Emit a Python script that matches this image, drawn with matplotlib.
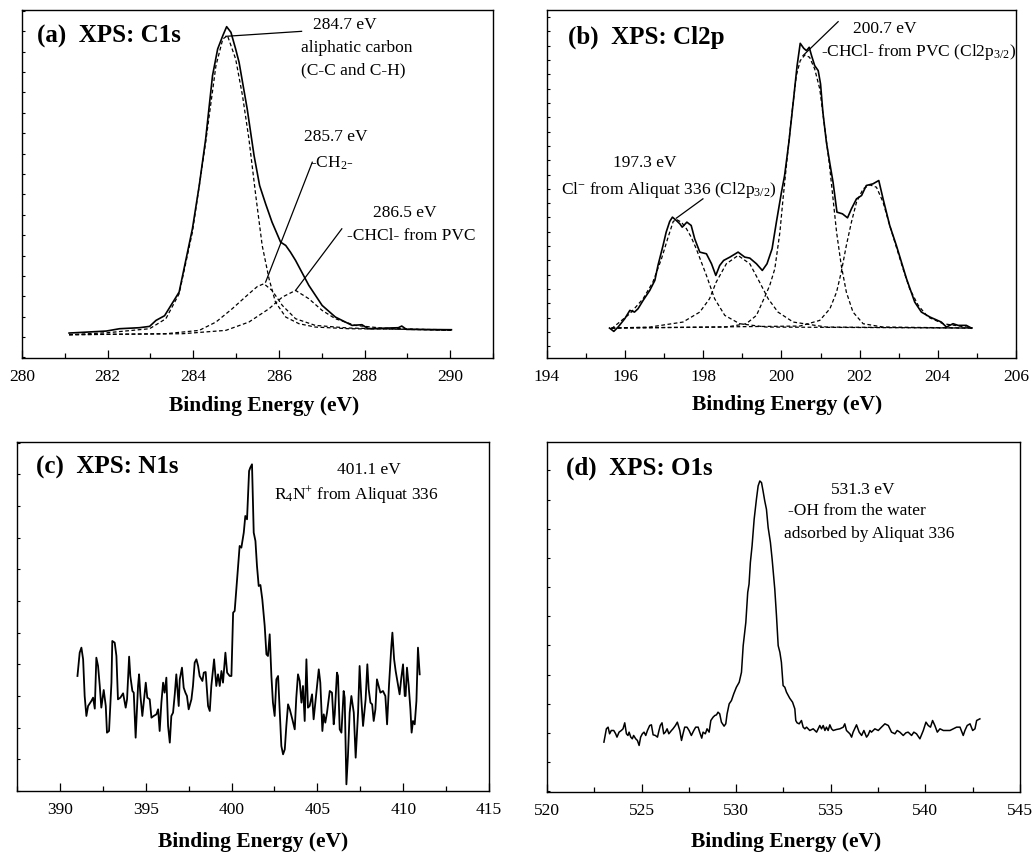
import matplotlib
matplotlib.use("Agg")
import matplotlib.pyplot as plt
from matplotlib.ticker import MultipleLocator

plt.rcParams['font.family'] = ['Liberation Serif', 'DejaVu Serif']
plt.rcParams['mathtext.fontset'] = 'custom'
plt.rcParams['mathtext.rm'] = 'Liberation Serif'
plt.rcParams['mathtext.it'] = 'Liberation Serif:italic'
plt.rcParams['mathtext.bf'] = 'Liberation Serif:bold'

# ---------------- (a) C1s : (binding energy eV, intensity a.u.) ----------------
c1s_raw = [(281.10, 75), (281.97, 81), (282.28, 88), (282.74, 91), (282.98, 95),
           (283.13, 113), (283.33, 127), (283.67, 198), (283.98, 388), (284.14, 518),
           (284.29, 658), (284.45, 848), (284.57, 928), (284.69, 968), (284.78, 995),
           (284.88, 978), (284.99, 928), (285.07, 888), (285.26, 748), (285.42, 608),
           (285.55, 518), (285.69, 463), (285.84, 408), (286.04, 348), (286.16, 338),
           (286.27, 318), (286.39, 293), (286.70, 218), (287.01, 158), (287.32, 123),
           (287.71, 98), (287.94, 100), (288.09, 88), (288.79, 91), (288.87, 96),
           (288.98, 86), (290.03, 85)]
c1s_fit1 = [(281.10, 70), (282.00, 76), (282.98, 88), (283.36, 118), (283.67, 193),
            (283.98, 378), (284.29, 648), (284.53, 878), (284.69, 958), (284.80, 968),
            (284.99, 898), (285.15, 788), (285.30, 658), (285.46, 488), (285.61, 338),
            (285.77, 238), (285.92, 168), (286.16, 123), (286.47, 103), (286.85, 93),
            (287.63, 88), (290.03, 85)]
c1s_fit2 = [(281.10, 70), (283.36, 73), (284.14, 83), (284.53, 108), (284.91, 148),
            (285.30, 193), (285.50, 215), (285.65, 223), (285.84, 203), (286.08, 158),
            (286.39, 118), (286.85, 98), (287.63, 90), (290.03, 83)]
c1s_fit3 = [(281.10, 70), (283.75, 73), (284.76, 83), (285.30, 108), (285.77, 148),
            (286.08, 183), (286.39, 203), (286.70, 178), (287.01, 143), (287.32, 118),
            (287.78, 98), (288.40, 90), (290.03, 83)]

# ---------------- (b) Cl2p ----------------
cl2p_raw = [(195.60, 90), (195.71, 80), (195.82, 93), (195.99, 118), (196.12, 143),
            (196.24, 138), (196.33, 148), (196.46, 173), (196.63, 203), (196.76, 233),
            (196.84, 278), (196.97, 338), (197.05, 378), (197.14, 410), (197.21, 423),
            (197.31, 413), (197.40, 403), (197.46, 393), (197.58, 408), (197.69, 398),
            (197.78, 358), (197.91, 318), (198.08, 313), (198.21, 283), (198.32, 248),
            (198.42, 278), (198.52, 293), (198.68, 303), (198.89, 318), (199.06, 303),
            (199.19, 300), (199.36, 283), (199.51, 263), (199.63, 283), (199.76, 328),
            (199.87, 408), (200.00, 498), (200.08, 548), (200.19, 648), (200.31, 778),
            (200.40, 878), (200.48, 945), (200.57, 930), (200.64, 923), (200.71, 933),
            (200.77, 908), (200.85, 878), (200.94, 863), (201.00, 823), (201.06, 738),
            (201.15, 648), (201.24, 583), (201.32, 528), (201.42, 438), (201.56, 433),
            (201.69, 421), (201.79, 448), (201.92, 478), (202.05, 488), (202.17, 518),
            (202.34, 523), (202.49, 533), (202.60, 478), (202.77, 398), (202.94, 338),
            (203.07, 288), (203.20, 238), (203.41, 168), (203.58, 138), (203.80, 123),
            (204.09, 108), (204.22, 93), (204.39, 103), (204.52, 98), (204.73, 98),
            (204.86, 90)]
cl2p_fit1 = [(195.65, 88), (196.12, 133), (196.46, 178), (196.71, 228), (196.93, 298),
             (197.10, 363), (197.23, 410), (197.31, 416), (197.44, 408), (197.57, 388),
             (197.69, 363), (197.82, 328), (197.95, 288), (198.08, 248), (198.29, 178),
             (198.55, 128), (198.93, 103), (199.61, 93), (204.89, 90)]
cl2p_fit2 = [(195.65, 90), (196.63, 93), (197.48, 108), (197.91, 138), (198.16, 178),
             (198.33, 228), (198.59, 283), (198.89, 308), (199.19, 283), (199.44, 228),
             (199.66, 178), (199.91, 138), (200.30, 108), (201.15, 93), (204.89, 90)]
cl2p_fit3 = [(195.65, 90), (198.59, 93), (199.10, 103), (199.36, 128), (199.57, 183),
             (199.70, 218), (199.83, 268), (199.96, 378), (200.04, 478), (200.17, 628),
             (200.28, 748), (200.38, 848), (200.48, 893), (200.60, 910), (200.72, 903),
             (200.85, 868), (200.98, 808), (201.11, 688), (201.22, 588), (201.32, 478),
             (201.41, 378), (201.53, 278), (201.66, 198), (201.83, 138), (202.09, 103),
             (202.60, 93), (204.89, 90)]
cl2p_fit4 = [(195.65, 90), (200.47, 96), (200.98, 113), (201.24, 148), (201.41, 198),
             (201.53, 258), (201.66, 338), (201.79, 408), (201.92, 468), (202.09, 508),
             (202.26, 520), (202.43, 513), (202.60, 468), (202.77, 398), (202.94, 333),
             (203.11, 268), (203.28, 208), (203.50, 158), (203.75, 123), (204.14, 103),
             (204.73, 93), (204.89, 90)]

# ---------------- (c) N1s ----------------
n1s_raw = [(391.02, 345), (391.15, 415), (391.25, 430), (391.35, 395), (391.44, 285),
           (391.54, 225), (391.64, 255), (391.83, 270), (391.93, 280), (392.03, 247),
           (392.12, 400), (392.22, 375), (392.32, 315), (392.41, 250), (392.55, 303),
           (392.67, 255), (392.74, 175), (392.86, 180), (393.00, 325), (393.05, 450),
           (393.19, 445), (393.29, 405), (393.38, 275), (393.52, 280), (393.68, 293),
           (393.83, 250), (393.91, 275), (394.03, 403), (394.10, 345), (394.22, 300),
           (394.30, 295), (394.41, 160), (394.55, 315), (394.61, 350), (394.69, 285),
           (394.80, 225), (394.90, 275), (395.00, 325), (395.09, 280), (395.23, 275),
           (395.33, 220), (395.46, 225), (395.62, 230), (395.72, 245), (395.81, 180),
           (395.91, 265), (396.01, 325), (396.10, 295), (396.20, 340), (396.30, 195),
           (396.40, 145), (396.49, 225), (396.59, 235), (396.69, 290), (396.78, 350),
           (396.92, 255), (396.98, 335), (397.11, 370), (397.21, 310), (397.31, 295),
           (397.40, 285), (397.50, 245), (397.66, 275), (397.75, 315), (397.85, 385),
           (397.95, 395), (398.05, 375), (398.14, 345), (398.30, 330), (398.38, 355),
           (398.49, 357), (398.63, 255), (398.73, 240), (398.82, 315), (398.98, 395),
           (399.11, 315), (399.21, 350), (399.31, 315), (399.41, 360), (399.50, 325),
           (399.64, 415), (399.74, 355), (399.89, 345), (399.99, 345), (400.09, 535),
           (400.18, 540), (400.32, 635), (400.47, 735), (400.57, 730), (400.71, 775),
           (400.80, 825), (400.90, 815), (401.02, 960), (401.09, 970), (401.19, 980),
           (401.29, 775), (401.39, 750), (401.48, 675), (401.58, 615), (401.68, 618),
           (401.79, 575), (401.93, 495), (402.03, 410), (402.12, 405), (402.22, 470),
           (402.32, 345), (402.41, 265), (402.51, 225), (402.61, 335), (402.71, 345),
           (402.80, 245), (402.90, 135), (403.00, 110), (403.10, 125), (403.19, 195),
           (403.29, 260), (403.39, 245), (403.54, 215), (403.68, 185), (403.77, 280),
           (403.87, 350), (403.97, 330), (404.07, 265), (404.16, 315), (404.26, 210),
           (404.36, 395), (404.45, 250), (404.55, 255), (404.69, 290), (404.78, 215),
           (404.94, 295), (405.08, 365), (405.17, 325), (405.29, 180), (405.37, 230),
           (405.46, 205), (405.56, 235), (405.72, 300), (405.85, 295), (405.95, 200),
           (406.01, 230), (406.14, 355), (406.20, 345), (406.30, 185), (406.40, 175),
           (406.53, 300), (406.59, 280), (406.69, 20), (406.78, 105), (406.88, 235),
           (406.98, 285), (407.12, 235), (407.23, 100), (407.37, 235), (407.46, 375),
           (407.56, 275), (407.66, 195), (407.81, 275), (407.91, 380), (407.99, 305),
           (408.09, 265), (408.19, 260), (408.28, 210), (408.38, 245), (408.47, 335),
           (408.57, 315), (408.67, 295), (408.82, 300), (408.96, 285), (409.06, 200),
           (409.17, 315), (409.31, 435), (409.37, 475), (409.47, 395), (409.56, 360),
           (409.66, 330), (409.79, 290), (409.89, 340), (409.99, 380), (410.09, 285),
           (410.14, 285), (410.22, 370), (410.32, 315), (410.42, 245), (410.49, 175),
           (410.57, 210), (410.67, 200), (410.77, 270), (410.86, 430), (410.96, 350)]

# ---------------- (d) O1s ----------------
o1s_raw = [(523.01, 150), (523.14, 190), (523.23, 195), (523.31, 175), (523.40, 185),
           (523.53, 185), (523.63, 175), (523.70, 165), (523.81, 180), (523.93, 185),
           (524.02, 190), (524.11, 208), (524.20, 175), (524.28, 170), (524.34, 180),
           (524.43, 165), (524.51, 160), (524.58, 170), (524.69, 160), (524.78, 155),
           (524.87, 140), (524.95, 165), (525.04, 175), (525.13, 180), (525.22, 170),
           (525.31, 185), (525.43, 200), (525.52, 202), (525.61, 172), (525.73, 170),
           (525.84, 165), (525.92, 185), (525.99, 200), (526.08, 208), (526.17, 175),
           (526.26, 180), (526.35, 190), (526.44, 175), (526.58, 185), (526.66, 190),
           (526.79, 200), (526.89, 210), (527.02, 185), (527.11, 155), (527.19, 175),
           (527.28, 195), (527.40, 195), (527.51, 185), (527.63, 170), (527.76, 185),
           (527.86, 195), (527.99, 195), (528.07, 180), (528.18, 162), (528.25, 180),
           (528.37, 175), (528.46, 190), (528.57, 180), (528.66, 215), (528.78, 225),
           (528.87, 230), (528.96, 232), (529.04, 240), (529.13, 235), (529.22, 210),
           (529.36, 198), (529.45, 205), (529.52, 235), (529.63, 265), (529.75, 275),
           (529.87, 295), (530.01, 315), (530.16, 330), (530.28, 360), (530.37, 440),
           (530.51, 510), (530.61, 600), (530.68, 625), (530.75, 690), (530.84, 740),
           (530.95, 820), (531.07, 880), (531.16, 920), (531.25, 935), (531.34, 930),
           (531.42, 905), (531.51, 875), (531.60, 850), (531.69, 795), (531.81, 750),
           (531.90, 700), (532.04, 610), (532.13, 530), (532.22, 440), (532.31, 420),
           (532.39, 390), (532.48, 320), (532.57, 315), (532.66, 300), (532.83, 282),
           (532.98, 270), (533.10, 250), (533.15, 215), (533.22, 208), (533.33, 205),
           (533.45, 215), (533.54, 195), (533.63, 190), (533.72, 195), (533.89, 185),
           (534.07, 190), (534.25, 180), (534.42, 200), (534.51, 190), (534.60, 200),
           (534.69, 185), (534.77, 195), (534.86, 185), (534.95, 202), (535.04, 190),
           (535.13, 185), (535.30, 188), (535.48, 190), (535.66, 195), (535.74, 205),
           (535.83, 185), (536.01, 175), (536.10, 165), (536.18, 180), (536.36, 202),
           (536.50, 180), (536.63, 170), (536.75, 185), (536.89, 165), (536.98, 172),
           (537.07, 185), (537.15, 180), (537.33, 190), (537.51, 185), (537.68, 195),
           (537.86, 205), (538.04, 200), (538.21, 180), (538.39, 175), (538.51, 185),
           (538.65, 180), (538.83, 170), (538.97, 178), (539.09, 180), (539.27, 170),
           (539.39, 180), (539.53, 175), (539.71, 160), (539.89, 185), (540.03, 210),
           (540.15, 200), (540.27, 195), (540.38, 215), (540.50, 200), (540.63, 180),
           (540.77, 190), (540.95, 185), (541.12, 185), (541.30, 185), (541.47, 190),
           (541.65, 195), (541.83, 195), (542.00, 170), (542.09, 185), (542.21, 200),
           (542.36, 205), (542.50, 185), (542.62, 190), (542.71, 215), (542.88, 220)]

SOLID = dict(color='black', lw=1.2)
DASH = dict(color='black', lw=0.9, linestyle=(0, (3.0, 2.0)))
ANN = dict(fontsize=12.5, ha='center', va='center')
TITLE = dict(fontsize=18, fontweight='bold', va='center', ha='left')


def xy(pairs):
    return [p[0] for p in pairs], [p[1] for p in pairs]


def style(ax, xlim, ylim, xmin, ybase, yoff, xticks, label_xy):
    ax.set_xlim(*xlim)
    ax.set_ylim(*ylim)
    ax.set_xticks(xticks)
    ax.xaxis.set_minor_locator(MultipleLocator(xmin))
    ax.yaxis.set_major_locator(MultipleLocator(ybase, offset=yoff))
    ax.tick_params(axis='x', which='major', direction='in', length=6, width=0.9,
                   labelsize=12.5, pad=7, top=False)
    ax.tick_params(axis='x', which='minor', direction='in', length=3.5, width=0.9, top=False)
    ax.tick_params(axis='y', which='both', direction='in', length=2.2, width=0.8,
                   labelleft=False, right=False)
    for s in ax.spines.values():
        s.set_linewidth(1.0)
    ax.set_xlabel('Binding Energy (eV)', fontsize=15.5, fontweight='bold')
    ax.xaxis.set_label_coords(*label_xy)


fig = plt.figure(figsize=(10.33, 8.54), dpi=100)

# (a)
ax = fig.add_axes([0.0213, 0.5796, 0.4559, 0.4075])
for d in (c1s_fit1, c1s_fit2, c1s_fit3):
    ax.plot(*xy(d), **DASH)
ax.plot(*xy(c1s_raw), **SOLID)
style(ax, (280, 291), (0, 1045), 1, 61.2, 1.8, [280, 282, 284, 286, 288, 290],
      (0.515, -0.107))
ax.text(0.032, 0.928, '(a)  XPS: C1s', transform=ax.transAxes, **TITLE)
ax.text(287.55, 1003, '284.7 eV', **ANN)
ax.text(287.82, 933, 'aliphatic carbon', **ANN)
ax.text(287.74, 868, '(C-C and C-H)', **ANN)
ax.plot([286.53, 284.76], [981, 966], color='black', lw=0.9)
ax.text(287.33, 668, '285.7 eV', **ANN)
ax.text(287.24, 588, '-CH$_2$-', **ANN)
ax.plot([286.78, 285.69], [588, 228], color='black', lw=0.9)
ax.text(288.95, 438, '286.5 eV', **ANN)
ax.text(289.10, 368, '-CHCl- from PVC', **ANN)
ax.plot([287.47, 286.39], [388, 203], color='black', lw=0.9)

# (b)
ax = fig.add_axes([0.5295, 0.5796, 0.4540, 0.4075])
for d in (cl2p_fit1, cl2p_fit2, cl2p_fit3, cl2p_fit4):
    ax.plot(*xy(d), **DASH)
ax.plot(*xy(cl2p_raw), **SOLID)
style(ax, (194, 206), (0, 1045), 1, 43, -8, [194, 196, 198, 200, 202, 204, 206],
      (0.512, -0.102))
ax.text(0.045, 0.925, '(b)  XPS: Cl2p', transform=ax.transAxes, **TITLE)
ax.text(202.64, 990, '200.7 eV', **ANN)
ax.text(203.52, 923, '-CHCl- from PVC (Cl2p$_{3/2}$)', **ANN)
ax.plot([201.45, 200.55], [1010, 908], color='black', lw=0.9)
ax.text(196.50, 588, '197.3 eV', **ANN)
ax.text(197.11, 508, 'Cl$^{-}$ from Aliquat 336 (Cl2p$_{3/2}$)', **ANN)
ax.plot([197.99, 197.31], [478, 420], color='black', lw=0.9)

# (c)
ax = fig.add_axes([0.0165, 0.0726, 0.4569, 0.4087])
ax.plot(*xy(n1s_raw), color='black', lw=1.3)
style(ax, (387.5, 415), (0, 1047), 2.5, 95, 0, [390, 395, 400, 405, 410, 415],
      (0.5, -0.115))
ax.text(0.040, 0.931, '(c)  XPS: N1s', transform=ax.transAxes, **TITLE)
ax.text(407.98, 967, '401.1 eV', **ANN)
ax.text(407.25, 890, 'R$_4$N$^{+}$ from Aliquat 336', **ANN)

# (d)
ax = fig.add_axes([0.5295, 0.0714, 0.4579, 0.4098])
ax.plot(*xy(o1s_raw), color='black', lw=1.1)
style(ax, (520, 545), (0, 1052), 2.5, 87.7, 2.3, [520, 525, 530, 535, 540, 545],
      (0.505, -0.112))
ax.text(0.040, 0.927, '(d)  XPS: O1s', transform=ax.transAxes, **TITLE)
ax.text(536.71, 910, '531.3 eV', **ANN)
ax.text(536.36, 848, '-OH from the water', **ANN)
ax.text(537.03, 780, 'adsorbed by Aliquat 336', **ANN)

fig.savefig('out.png', dpi=100)
